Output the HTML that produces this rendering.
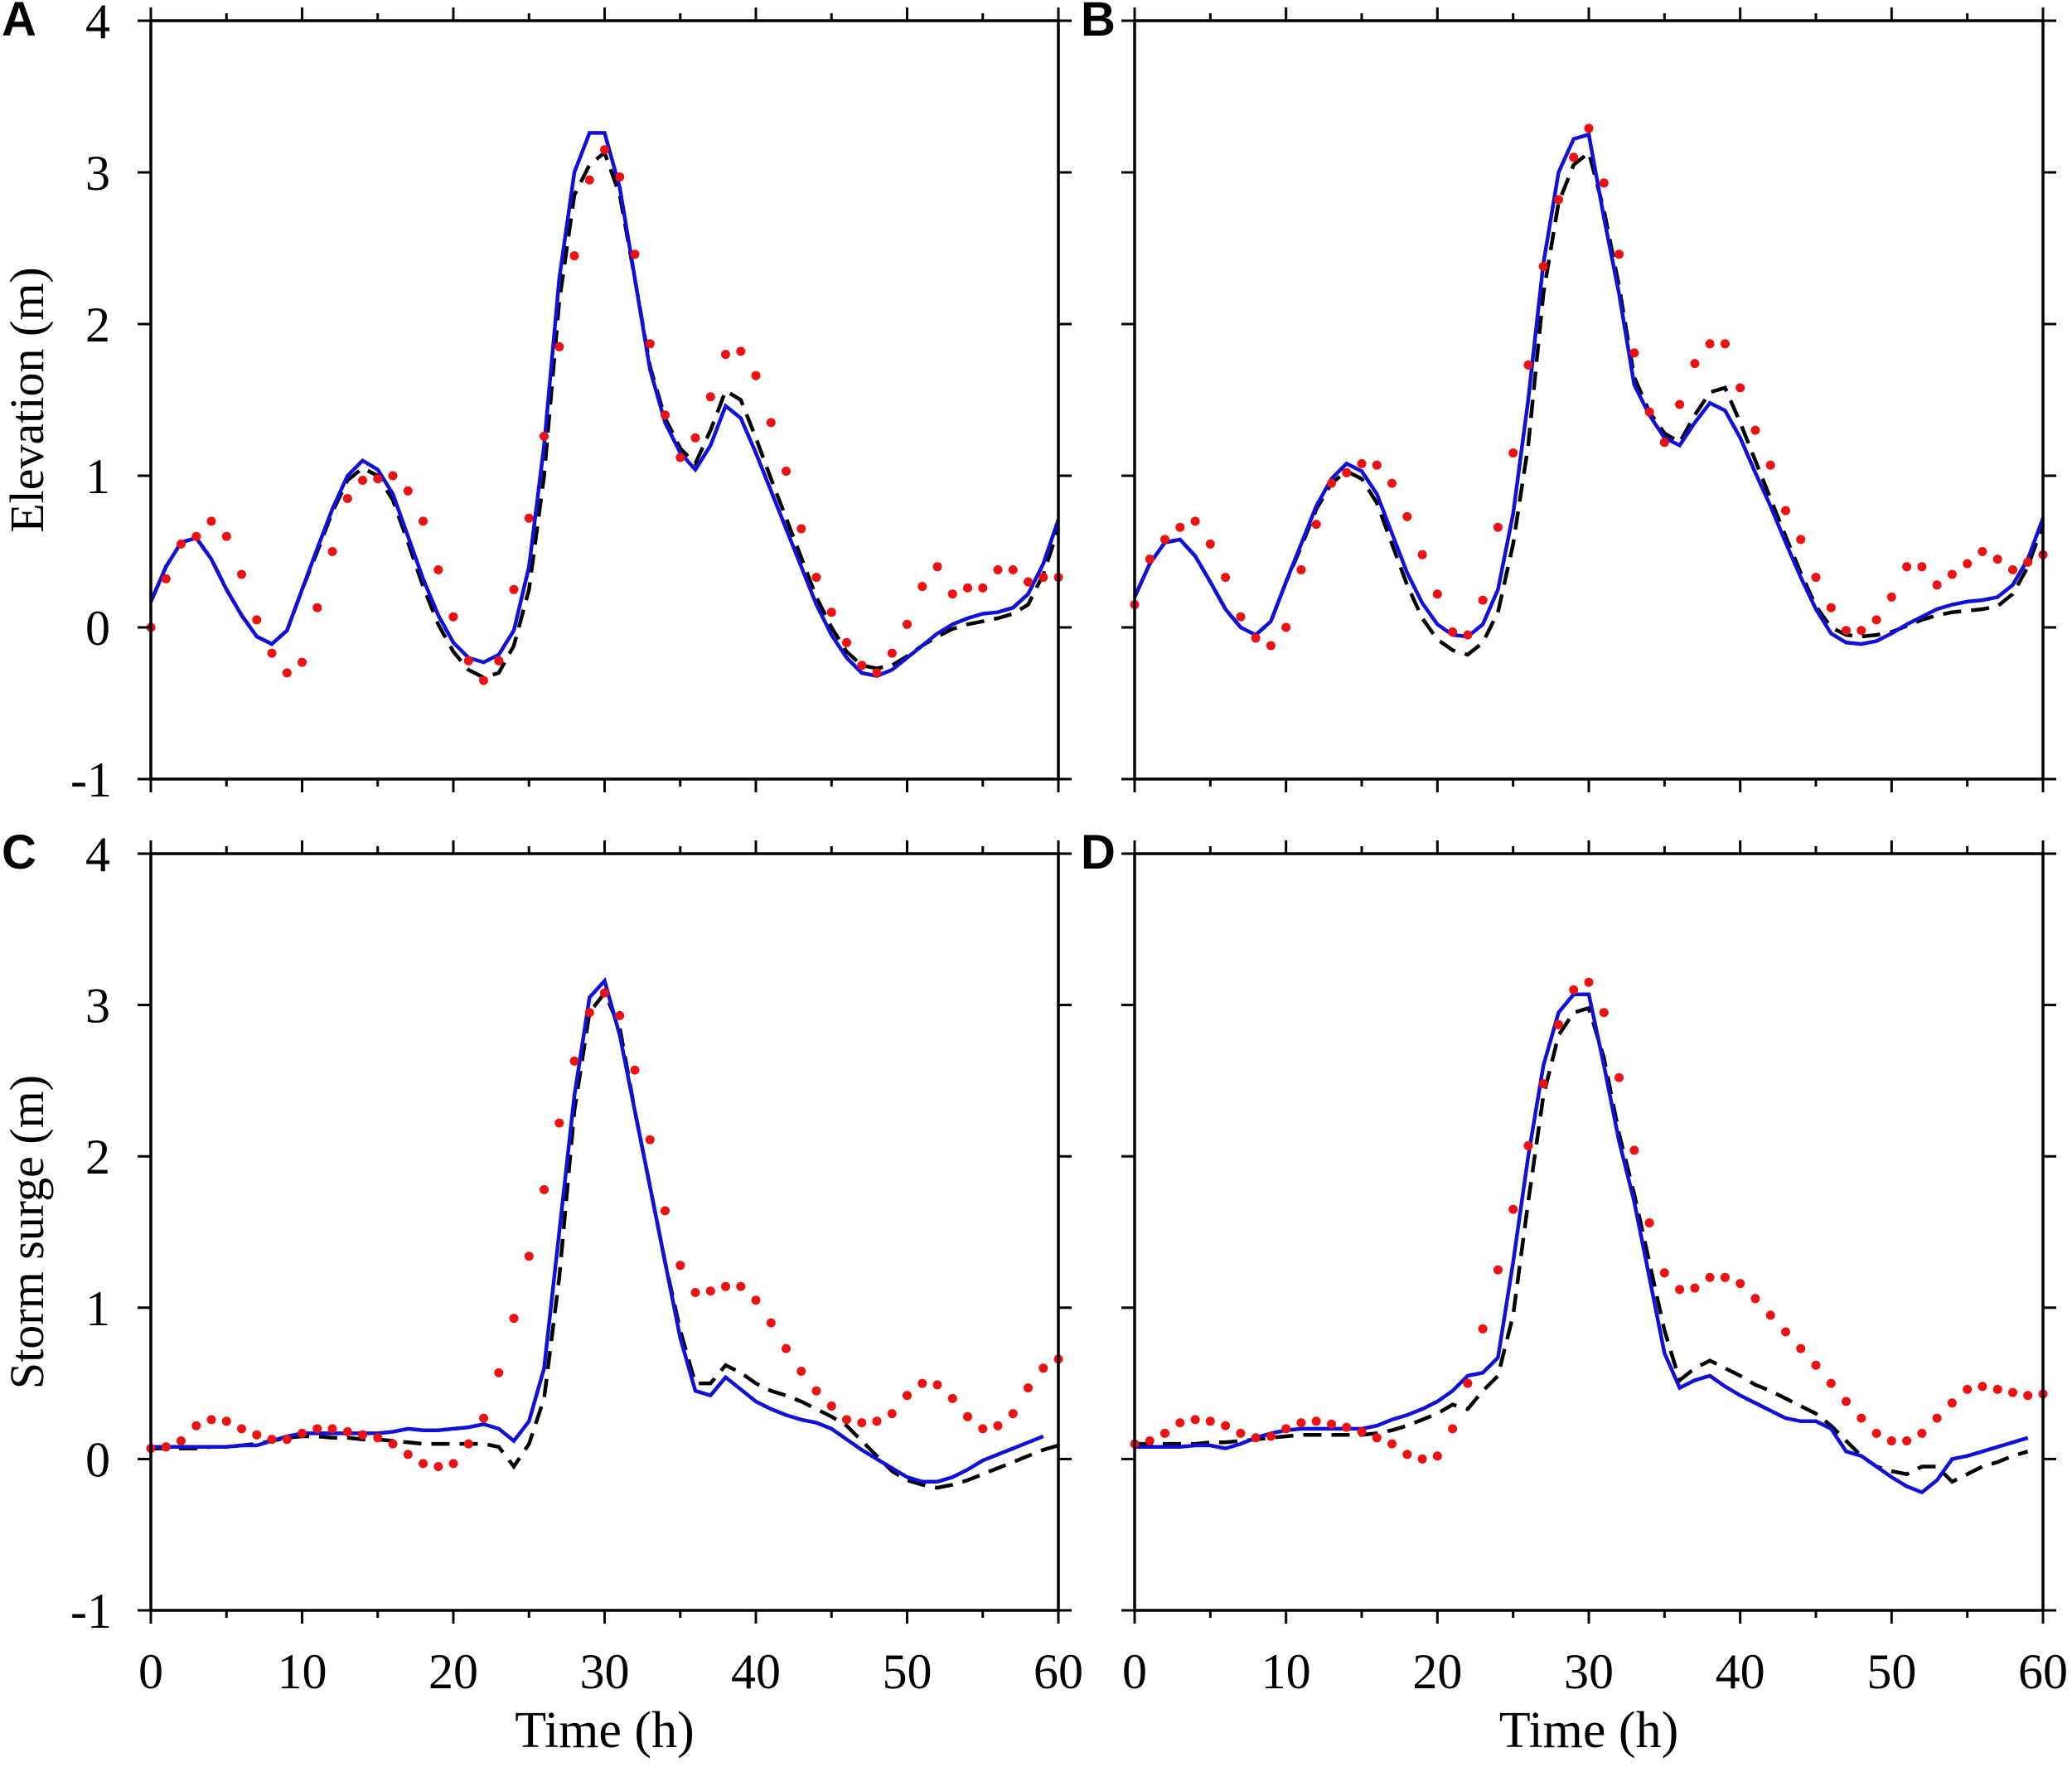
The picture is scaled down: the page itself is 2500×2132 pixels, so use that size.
<!DOCTYPE html>
<html><head><meta charset="utf-8"><style>
html,body{margin:0;padding:0;background:#fff}
svg text{font-family:"Liberation Serif",serif}
</style></head><body>
<svg id="s" width="2500" height="2127" xmlns="http://www.w3.org/2000/svg"></svg>
<script>
const P={
A:{x0:182,x1:1277,y0:25,y1:940,
b:[0.17,0.4,0.56,0.59,0.45,0.25,0.08,-0.06,-0.11,-0.02,0.25,0.52,0.78,1.0,1.1,1.04,0.88,0.6,0.32,0.08,-0.1,-0.2,-0.23,-0.18,-0.02,0.4,1.2,2.3,3.0,3.26,3.26,2.9,2.3,1.7,1.35,1.15,1.04,1.2,1.46,1.38,1.15,0.9,0.65,0.4,0.15,-0.05,-0.2,-0.3,-0.32,-0.28,-0.2,-0.12,-0.04,0.02,0.06,0.09,0.1,0.13,0.22,0.42,0.71],
k:[0.17,0.4,0.56,0.59,0.45,0.25,0.08,-0.06,-0.11,-0.02,0.25,0.5,0.76,0.97,1.05,1.0,0.84,0.56,0.27,0.02,-0.16,-0.28,-0.33,-0.3,-0.12,0.25,1.0,2.15,2.85,3.05,3.13,2.85,2.3,1.72,1.38,1.18,1.08,1.3,1.56,1.5,1.25,0.98,0.72,0.46,0.2,0.0,-0.16,-0.25,-0.27,-0.25,-0.19,-0.12,-0.06,-0.01,0.02,0.04,0.06,0.09,0.15,0.35,0.65],
r:[0,0.32,0.55,0.6,0.7,0.6,0.35,0.05,-0.17,-0.3,-0.23,0.13,0.5,0.85,0.97,0.98,1.0,0.9,0.7,0.38,0.07,-0.22,-0.35,-0.22,0.25,0.72,1.26,1.85,2.45,2.95,3.15,2.97,2.46,1.87,1.4,1.12,1.25,1.52,1.8,1.82,1.66,1.35,1.03,0.65,0.33,0.1,-0.1,-0.25,-0.3,-0.17,0.02,0.27,0.4,0.22,0.26,0.26,0.38,0.38,0.3,0.33,0.33]},
B:{x0:1369,x1:2465,y0:25,y1:940,
b:[0.2,0.42,0.56,0.58,0.47,0.3,0.12,0.0,-0.05,0.04,0.3,0.55,0.8,0.98,1.08,1.03,0.88,0.62,0.36,0.16,0.02,-0.05,-0.06,0.02,0.25,0.75,1.5,2.4,3.0,3.22,3.25,2.7,2.2,1.6,1.4,1.25,1.2,1.35,1.48,1.43,1.25,1.02,0.8,0.56,0.33,0.12,-0.04,-0.1,-0.11,-0.09,-0.04,0.02,0.07,0.12,0.15,0.17,0.18,0.2,0.28,0.45,0.72],
k:[0.2,0.42,0.56,0.58,0.47,0.3,0.12,0.0,-0.05,0.04,0.3,0.53,0.78,0.95,1.03,0.98,0.82,0.55,0.28,0.06,-0.08,-0.15,-0.18,-0.1,0.1,0.55,1.2,2.2,2.8,3.05,3.13,2.75,2.25,1.65,1.42,1.28,1.22,1.4,1.55,1.58,1.35,1.1,0.85,0.6,0.36,0.14,0.0,-0.05,-0.06,-0.05,-0.03,0.01,0.05,0.08,0.1,0.11,0.12,0.14,0.22,0.4,0.68],
r:[0.15,0.45,0.58,0.66,0.7,0.55,0.33,0.07,-0.07,-0.12,0.0,0.38,0.68,0.95,1.02,1.08,1.07,0.95,0.73,0.48,0.22,-0.03,-0.05,0.18,0.66,1.15,1.73,2.38,2.82,3.1,3.29,2.93,2.46,1.81,1.42,1.22,1.47,1.74,1.87,1.87,1.58,1.3,1.07,0.77,0.58,0.33,0.13,-0.02,-0.02,0.05,0.2,0.4,0.4,0.28,0.35,0.42,0.5,0.45,0.38,0.43,0.48]},
C:{x0:182,x1:1277,y0:1030,y1:1943,
b:[0.08,0.08,0.08,0.08,0.08,0.08,0.09,0.09,0.12,0.15,0.17,0.17,0.17,0.17,0.17,0.17,0.18,0.2,0.19,0.19,0.2,0.21,0.23,0.2,0.12,0.25,0.6,1.5,2.4,3.05,3.16,2.8,2.3,1.8,1.3,0.8,0.45,0.42,0.54,0.46,0.38,0.33,0.29,0.26,0.24,0.2,0.13,0.06,0.0,-0.06,-0.12,-0.15,-0.15,-0.12,-0.07,-0.01,0.03,0.07,0.11,0.15],
k:[0.07,0.07,0.07,0.07,0.08,0.08,0.09,0.1,0.12,0.14,0.15,0.15,0.14,0.14,0.13,0.13,0.12,0.11,0.1,0.1,0.1,0.1,0.1,0.08,-0.05,0.1,0.4,1.2,2.3,2.95,3.08,2.85,2.3,1.8,1.3,0.85,0.5,0.5,0.62,0.57,0.5,0.45,0.42,0.38,0.33,0.28,0.22,0.12,0.02,-0.08,-0.14,-0.17,-0.19,-0.17,-0.14,-0.1,-0.06,-0.02,0.02,0.06,0.09],
r:[0.07,0.08,0.12,0.22,0.26,0.25,0.2,0.16,0.13,0.13,0.17,0.2,0.2,0.18,0.16,0.14,0.1,0.03,-0.03,-0.05,-0.03,0.1,0.27,0.57,0.93,1.34,1.78,2.22,2.63,2.95,3.08,2.93,2.57,2.11,1.64,1.28,1.1,1.11,1.14,1.14,1.05,0.9,0.73,0.58,0.45,0.35,0.26,0.24,0.25,0.3,0.42,0.5,0.49,0.4,0.28,0.2,0.22,0.3,0.47,0.6,0.66]},
D:{x0:1369,x1:2465,y0:1030,y1:1943,
b:[0.08,0.08,0.08,0.08,0.09,0.09,0.07,0.1,0.14,0.17,0.19,0.2,0.2,0.2,0.2,0.2,0.22,0.26,0.29,0.33,0.38,0.45,0.55,0.57,0.67,1.3,2.0,2.6,2.95,3.07,3.07,2.6,2.1,1.7,1.2,0.7,0.47,0.52,0.55,0.48,0.42,0.37,0.32,0.27,0.25,0.25,0.2,0.05,0.02,-0.05,-0.12,-0.18,-0.22,-0.14,0.0,0.02,0.05,0.08,0.11,0.14],
k:[0.1,0.1,0.1,0.1,0.1,0.11,0.11,0.12,0.13,0.14,0.15,0.16,0.16,0.16,0.16,0.16,0.17,0.19,0.22,0.26,0.3,0.36,0.33,0.45,0.55,0.95,1.7,2.4,2.8,2.95,2.98,2.65,2.15,1.75,1.3,0.85,0.52,0.6,0.65,0.6,0.55,0.49,0.45,0.4,0.35,0.3,0.22,0.12,0.02,-0.05,-0.08,-0.1,-0.05,-0.05,-0.15,-0.1,-0.05,-0.02,0.02,0.05],
r:[0.1,0.12,0.17,0.24,0.26,0.25,0.22,0.17,0.14,0.15,0.2,0.24,0.25,0.23,0.21,0.18,0.14,0.1,0.03,0.0,0.02,0.2,0.5,0.86,1.25,1.65,2.07,2.48,2.87,3.1,3.15,2.95,2.52,2.04,1.56,1.23,1.12,1.13,1.2,1.2,1.16,1.06,0.95,0.84,0.73,0.62,0.5,0.38,0.27,0.17,0.12,0.12,0.17,0.27,0.37,0.46,0.48,0.46,0.44,0.42,0.43]}
};
let h='';
for(const n in P){const p=P[n];
 const X=t=>p.x0+(p.x1-p.x0)*t/60, Y=v=>p.y0+(p.y1-p.y0)*(4-v)/5;
 const L=a=>a.map((v,i)=>X(i).toFixed(1)+','+Y(v).toFixed(1)).join(' ');
 h+=`<polyline points="${L(p.k)}" fill="none" stroke="#000" stroke-width="4.5" stroke-dasharray="22,12"/>`;
 h+=`<polyline points="${L(p.b)}" fill="none" stroke="#1010d8" stroke-width="4.5"/>`;
 p.r.forEach((v,i)=>h+=`<circle cx="${X(i).toFixed(1)}" cy="${Y(v).toFixed(1)}" r="5.5" fill="#ee1111"/>`);
 h+=`<rect x="${p.x0}" y="${p.y0}" width="${p.x1-p.x0}" height="${p.y1-p.y0}" fill="none" stroke="#000" stroke-width="3.5"/>`;
 for(let t=0;t<=60;t+=5){const l=t%10?9:16,x=X(t);
  h+=`<line x1="${x}" y1="${p.y0}" x2="${x}" y2="${p.y0-l}" stroke="#000" stroke-width="3"/><line x1="${x}" y1="${p.y1}" x2="${x}" y2="${p.y1+l}" stroke="#000" stroke-width="3"/>`;
  if(t%10==0&&p.y0>500)h+=`<text x="${x}" y="2037" font-size="60" text-anchor="middle">${t}</text>`;}
 for(let v=-1;v<=4;v++){const y=Y(v);
  h+=`<line x1="${p.x0-16}" y1="${y}" x2="${p.x0}" y2="${y}" stroke="#000" stroke-width="3"/><line x1="${p.x1}" y1="${y}" x2="${p.x1+16}" y2="${y}" stroke="#000" stroke-width="3"/>`;
  if(p.x0<500)h+=`<text x="${v<0?135:133}" y="${y+21}" font-size="60" text-anchor="end">${v}</text>`;}
 h+=`<text x="${p.x0<500?2:1304}" y="${p.y0+18}" font-size="58" font-weight="bold" style="font-family:'Liberation Sans',sans-serif">${n}</text>`;
 if(p.y0>500)h+=`<text x="${(p.x0+p.x1)/2}" y="2108" font-size="62" text-anchor="middle">Time (h)</text>`;
 if(p.x0<500)h+=`<text transform="translate(52,${(p.y0+p.y1)/2}) rotate(-90)" font-size="58" text-anchor="middle">${p.y0<500?'Elevation (m)':'Storm surge (m)'}</text>`;
}
document.getElementById('s').innerHTML=h;
</script>
</body></html>
